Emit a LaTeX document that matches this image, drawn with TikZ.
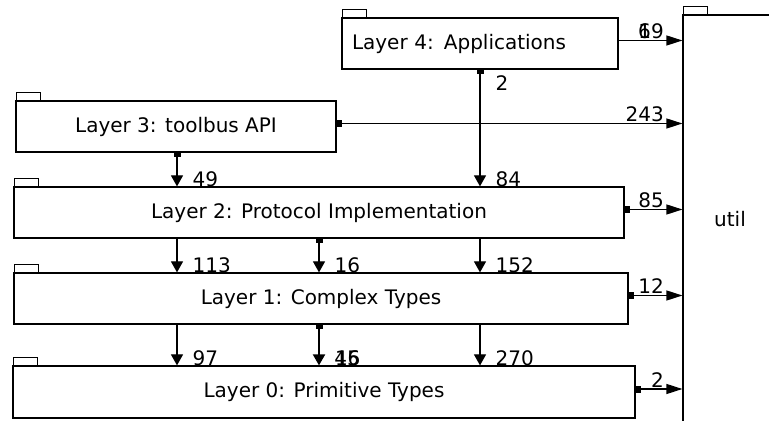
\documentclass[tikz,border=0pt]{standalone}
\usepackage{fontspec}
\setmainfont{DejaVu Sans}
\usepackage{tikz}
\usetikzlibrary{arrows.meta, positioning, calc}

\tikzset{
  layer/.style={draw, line width=0.6pt, inner sep=0pt,
    minimum height=25.5pt, font=\fontsize{10}{12}\selectfont},
  dep/.style={line width=0.6pt, -{Triangle[length=5.5pt,width=6pt]}},
  sdep/.style={line width=0.6pt,
    {Square[length=2pt,width=3.5pt]}-{Triangle[length=5.5pt,width=6pt]}},
  hdep/.style={line width=0.6pt, -{Triangle[length=8pt,width=5pt]}},
  shdep/.style={line width=0.6pt,
    {Square[length=2.5pt,width=3.5pt]}-{Triangle[length=8pt,width=5pt]}},
  count/.style={font=\fontsize{10}{12}\selectfont, inner sep=0pt},
  vcount/.style={count, pos=1, anchor=base west, xshift=7.5pt},
  hcount/.style={count, pos=1, anchor=base east, xshift=-9pt, yshift=1pt},
}

\begin{document}
\begin{tikzpicture}[x=0.5pt, y=-0.5pt]
  \path[use as bounding box, fill=white] (0,0) rectangle (769,421);

  % packages
  \node[layer, minimum width=138pt, text width=128pt, align=left,
    inner xsep=5pt] (l4) at (480,43.5) {Layer 4: Applications};
  \node[layer, minimum width=160pt] (l3) at (176,126.5) {Layer 3: toolbus API};
  \node[layer, minimum width=305pt] (l2) at (319,212.5) {Layer 2: Protocol Implementation};
  \node[layer, minimum width=307pt] (l1) at (321,298.5) {Layer 1: Complex Types};
  \node[layer, minimum width=311pt, minimum height=26pt] (l0) at (324,392) {Layer 0: Primitive Types};
  \node[layer, minimum width=47pt, minimum height=204pt] (util) at (730,219) {util};

  \foreach \n in {l4,l3,l2,l1,l0,util}
    \draw[line width=0.5pt] ([xshift=0.5pt]\n.north west) rectangle ++(12pt,4pt);

  % columns of the vertical dependencies
  \coordinate (c1) at (177,0);
  \coordinate (c2) at (319,0);
  \coordinate (c3) at (480,0);

  % downward dependencies
  \draw[sdep] (l4.south -| c3) --
    node[count, pos=0, anchor=base west, xshift=7.5pt, yshift=-10.5pt] {2}
    node[vcount] {84} (l2.north -| c3);
  \draw[sdep] (l3.south -| c1) -- node[vcount] {49} (l2.north -| c1);

  \draw[dep] (l2.south -| c1) -- node[vcount] {113} (l1.north -| c1);
  \draw[sdep] (l2.south -| c2) -- node[vcount] {16} (l1.north -| c2);
  \draw[dep] (l2.south -| c3) -- node[vcount] {152} (l1.north -| c3);

  \draw[dep] (l1.south -| c1) -- node[vcount] {97} (l0.north -| c1);
  \draw[sdep, line width=1pt] (l1.south -| c2) -- node[vcount] (n16) {16} (l0.north -| c2);
  \node[count, anchor=base west] at (n16.base west) {45};
  \draw[dep] (l1.south -| c3) -- node[vcount] {270} (l0.north -| c3);

  % dependencies on util
  \draw[hdep] ([yshift=1.5pt]l4.east) -- node[hcount] (n19) {19}
    (util.west |- {$(l4.east)+(0,1.5pt)$});
  \node[count, anchor=base west] at (n19.base west) {6};
  \draw[shdep] ([yshift=1.5pt]l3.east) -- node[hcount] {243}
    (util.west |- {$(l3.east)+(0,1.5pt)$});
  \draw[shdep] ([yshift=1.5pt]l2.east) -- node[hcount] {85}
    (util.west |- {$(l2.east)+(0,1.5pt)$});
  \draw[shdep] ([yshift=1.5pt]l1.east) -- node[hcount] {12}
    (util.west |- {$(l1.east)+(0,1.5pt)$});
  \draw[shdep] ([yshift=1.5pt]l0.east) -- node[hcount] {2}
    (util.west |- {$(l0.east)+(0,1.5pt)$});
\end{tikzpicture}
\end{document}
